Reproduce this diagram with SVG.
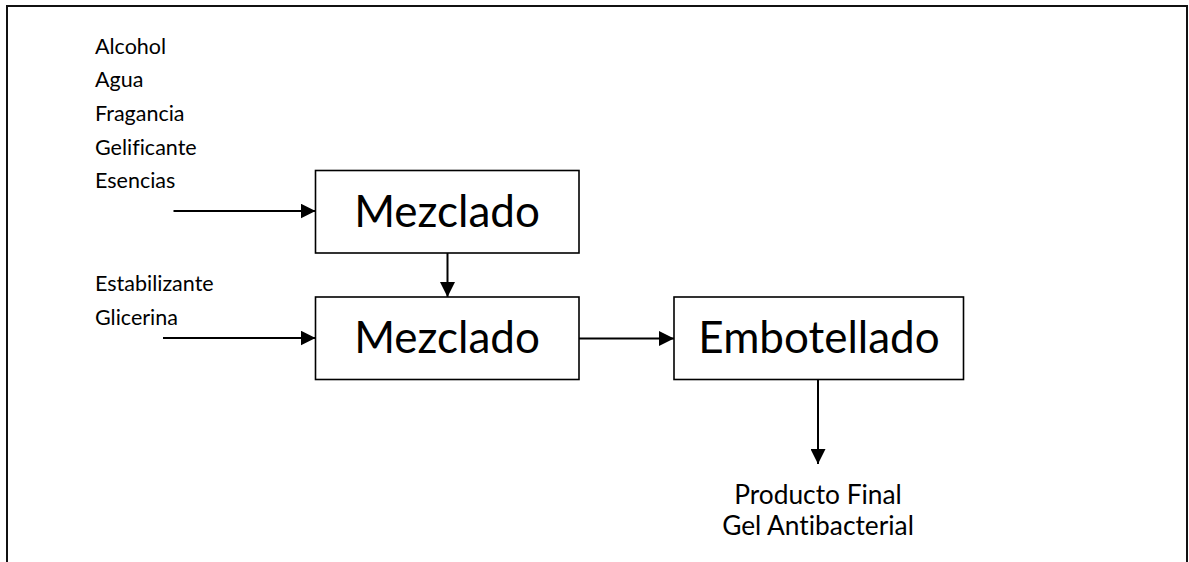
<svg xmlns="http://www.w3.org/2000/svg" width="1189" height="562" viewBox="0 0 1189 562">
  <style>
    .frame { fill: none; stroke: #111; stroke-width: 2; }
    .box { fill: #fff; stroke: #000; stroke-width: 1.6; }
    .link { fill: none; stroke: #000; stroke-width: 2; }
    .label { font-family: Lato, "Liberation Sans", sans-serif; fill: #000; font-variant-ligatures: none; }
    .small { font-size: 21.5px; }
    .big { font-size: 44px; text-anchor: middle; }
    .out { font-size: 26.3px; text-anchor: middle; }
  </style>
  <defs>
    <marker id="arrow" viewBox="0 0 15 15" refX="15" refY="7.5" markerWidth="15" markerHeight="15" markerUnits="userSpaceOnUse" orient="auto">
      <path d="M0,0 L15,7.5 L0,15 Z" fill="#000"/>
    </marker>
  </defs>

  <rect width="1189" height="562" fill="#fff"/>
  <!-- outer frame, open at the bottom -->
  <path class="frame" d="M7,562 V6 H1187 V562"/>

  <!-- raw material lists -->
  <g id="inputs-1" class="label small">
    <text x="95" y="53.5">Alcohol</text>
    <text x="95" y="87">Agua</text>
    <text x="95" y="120.5">Fragancia</text>
    <text x="95" y="154.5">Gelificante</text>
    <text x="95" y="188">Esencias</text>
  </g>
  <g id="inputs-2" class="label small">
    <text x="95" y="291">Estabilizante</text>
    <text x="95" y="325">Glicerina</text>
  </g>

  <!-- process steps -->
  <g id="mezclado-1">
    <rect class="box" x="315.5" y="170.5" width="263.5" height="82.5"/>
    <text class="label big" x="447" y="226.5">Mezclado</text>
  </g>
  <g id="mezclado-2">
    <rect class="box" x="315.5" y="297" width="263.5" height="82.5"/>
    <text class="label big" x="447" y="353">Mezclado</text>
  </g>
  <g id="embotellado">
    <rect class="box" x="674" y="297" width="289.5" height="82.5"/>
    <text class="label big" x="819" y="353">Embotellado</text>
  </g>

  <!-- final product -->
  <g id="producto-final" class="label out">
    <text x="818" y="503.5">Producto Final</text>
    <text x="818" y="534.5">Gel Antibacterial</text>
  </g>

  <!-- connectors -->
  <g id="connectors">
    <line class="link" x1="173.5" y1="211" x2="315.5" y2="211" marker-end="url(#arrow)"/>
    <line class="link" x1="447.5" y1="253" x2="447.5" y2="297" marker-end="url(#arrow)"/>
    <line class="link" x1="163" y1="338" x2="315.5" y2="338" marker-end="url(#arrow)"/>
    <line class="link" x1="579" y1="338.5" x2="674" y2="338.5" marker-end="url(#arrow)"/>
    <line class="link" x1="818" y1="379.5" x2="818" y2="464" marker-end="url(#arrow)"/>
  </g>
</svg>
